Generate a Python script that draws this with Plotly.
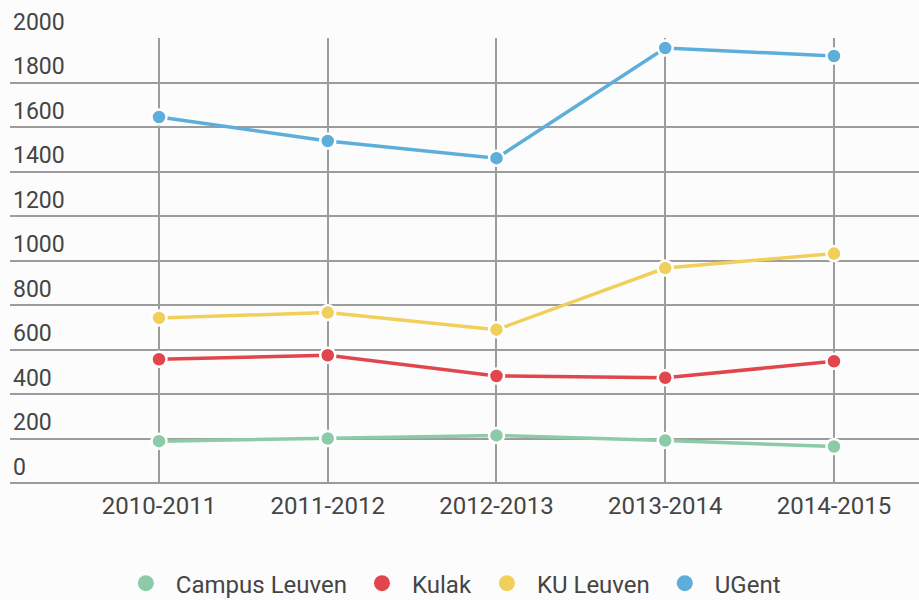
import plotly.graph_objects as go

years = ["2010-2011", "2011-2012", "2012-2013", "2013-2014", "2014-2015"]
campus_leuven = [188, 200, 214, 191, 164]
kulak = [556, 574, 481, 473, 547]
ku_leuven = [742, 766, 689, 966, 1031]
ugent = [1645, 1537, 1460, 1955, 1919]
y_ticks = [0, 200, 400, 600, 800, 1000, 1200, 1400, 1600, 1800, 2000]

series = [
    ("Campus Leuven", campus_leuven, "#8dcaa8"),
    ("Kulak", kulak, "#e0464b"),
    ("KU Leuven", ku_leuven, "#f0cf5b"),
    ("UGent", ugent, "#5eaedc"),
]

fig = go.Figure()
for name, vals, col in series:
    fig.add_trace(go.Scatter(
        x=years, y=vals, name=name, mode="lines+markers",
        line=dict(color=col, width=3.5),
        marker=dict(color=col, size=15, line=dict(color="#ffffff", width=2.5)),
        showlegend=False, hoverinfo="x+y+name",
    ))
for name, vals, col in series:
    fig.add_trace(go.Scatter(
        x=[None], y=[None], name=name, mode="markers",
        marker=dict(color=col, size=22),
        showlegend=True,
    ))

fig.update_layout(
    width=919, height=600,
    paper_bgcolor="#fcfcfc", plot_bgcolor="#fcfcfc",
    margin=dict(l=10, r=0, t=38, b=117, autoexpand=False),
    font=dict(family="Roboto", size=23, color="#454545"),
    showlegend=True,
    legend=dict(orientation="h", x=0.485, xanchor="center", y=-0.226, yanchor="middle",
                font=dict(size=24, color="#454545"), itemsizing="trace",
                itemwidth=50, bgcolor="rgba(0,0,0,0)"),
    xaxis=dict(
        type="category", range=[-0.883, 4.504], automargin=False,
        showgrid=True, gridcolor="#9c9c9c", gridwidth=1.5,
        showline=False, zeroline=False, ticks="",
        ticklabelstandoff=6,
        tickfont=dict(size=24, color="#454545"),
    ),
    yaxis=dict(
        range=[0, 2000], tickvals=y_ticks, automargin=False,
        showgrid=True, gridcolor="#9c9c9c", gridwidth=1.5,
        zeroline=True, zerolinecolor="#9c9c9c", zerolinewidth=1.5,
        showline=False, ticks="",
        ticklabelposition="inside top", ticklabeloverflow="allow",
        tickfont=dict(size=23, color="#454545"),
    ),
)

fig.write_html(
    "out.html",
    config={"displayModeBar": False},
    post_script="document.body.style.margin='0';document.body.style.background='#fcfcfc';",
)
